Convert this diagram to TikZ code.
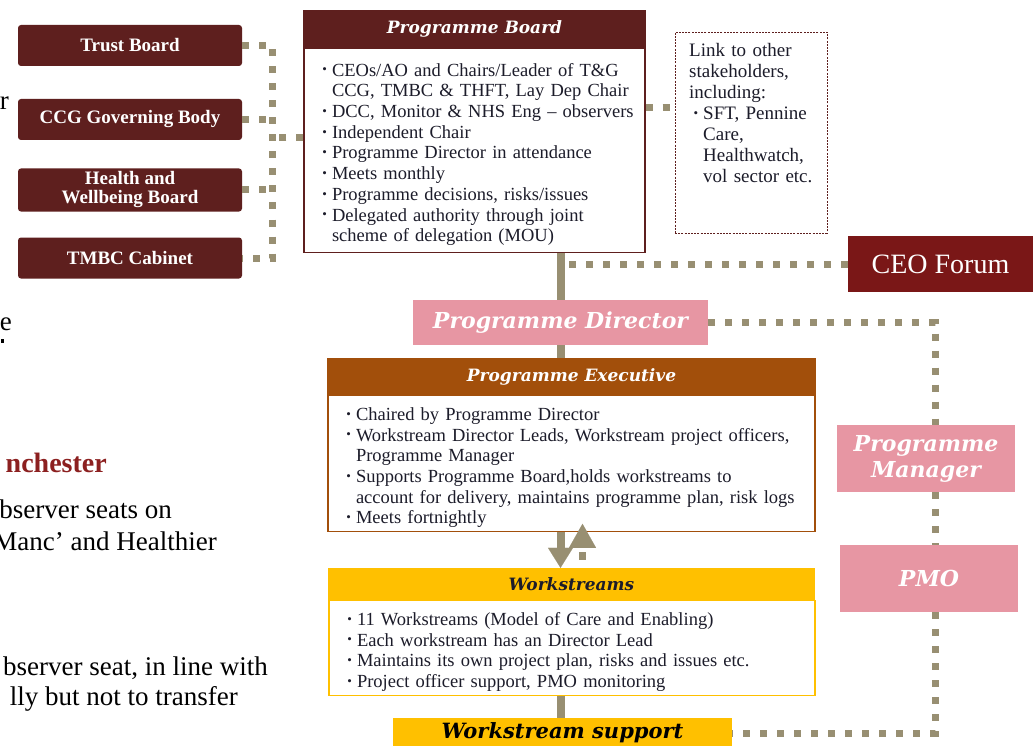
\documentclass[tikz,border=0pt]{standalone}
\usepackage{fontspec}
\setmainfont{Liberation Serif}
\newfontfamily\headfont{DejaVu Serif}
\usetikzlibrary{arrows.meta, positioning}

\definecolor{boardbrown}{HTML}{5E1F1E}
\definecolor{ceored}{HTML}{7A1717}
\definecolor{pinkfill}{HTML}{E796A3}
\definecolor{execbrown}{HTML}{A24F0B}
\definecolor{wsyellow}{HTML}{FFC000}
\definecolor{olive}{HTML}{988F72}
\definecolor{fragred}{HTML}{8C2020}
\definecolor{bodytext}{HTML}{1C1C2A}

\newcommand\tightspace{\spaceskip=3.2pt plus 1pt minus 0.5pt\relax}

\newenvironment{dotlist}[1][18pt]{%
  \begin{list}{\raisebox{0.12em}{\fontsize{13}{13}\selectfont\textbullet}}{%
    \setlength{\leftmargin}{#1}\setlength{\labelsep}{5pt}%
    \setlength{\labelwidth}{8pt}\setlength{\itemsep}{0pt}%
    \setlength{\parsep}{0pt}\setlength{\topsep}{0pt}%
    \setlength{\partopsep}{0pt}}}{\end{list}}

\tikzset{
  board/.style = {fill=boardbrown, text=white, rounded corners=3pt,
    minimum width=224pt, minimum height=41pt, align=center,
    font=\fontsize{19}{19}\selectfont\bfseries},
  headbar/.style = {minimum height=38pt, inner sep=0pt,
    font=\headfont\fontsize{17}{20}\selectfont\bfseries\itshape},
  bodybox/.style = {draw, line width=1.2pt, fill=white, text=bodytext,
    inner xsep=10pt, inner ysep=4pt, align=left,
    font=\fontsize{18.5}{20.7}\selectfont\tightspace},
  pinkbox/.style = {fill=pinkfill, text=white, inner sep=0pt, align=center,
    font=\headfont\fontsize{22}{26}\selectfont\bfseries\itshape},
  dots/.style = {draw=olive, line width=7pt, dash pattern=on 7pt off 10pt},
  trunk/.style = {draw=olive, line width=8pt},
  frag/.style = {anchor=base east, inner sep=0pt, font=\fontsize{27}{32}\selectfont}
}

\begin{document}
\begin{tikzpicture}[x=1pt, y=-1pt]
    \useasboundingbox [fill=white] (0,0) rectangle (1033,746);
    % \draw [help lines, step=50] (0,0) grid (1033,746);

    % text cut off at the left edge
    \node (F1) [frag] at (9,110) {r};
    \node (F2) [frag] at (12,330) {e};
    \fill (1,339) rectangle (4,343);
    \node (F4) [frag, text=fragred, font=\fontsize{28}{32}\selectfont\bfseries] at (107,472) {nchester};
    \node (F5) [frag] at (172,518) {bserver seats on};
    \node (F6) [frag] at (217,550) {Manc’ and Healthier};
    \node (F7) [frag] at (268,675) {bserver seat, in line with};
    \node (F8) [frag] at (238,705) {lly but not to transfer};

    \node (TB) [board] at (130,45.5) {Trust Board};
    \node (CCG) [board] at (130,119.5) {CCG Governing Body};
    \node (HWB) [board] at (130,190) {Health and\\Wellbeing Board};
    \node (TMBC) [board] at (130,258) {TMBC Cabinet};

    \node (PBh) [headbar, fill=boardbrown, text=white, minimum width=343pt] at (474.5,29) {Programme Board};
    \node (PB) [bodybox, draw=boardbrown, anchor=north, minimum width=341pt,
        minimum height=204pt, text width=321pt] at (474.5,48) {%
        \begin{dotlist}
        \item CEOs/AO and Chairs/Leader of T\&G\newline CCG, TMBC \& THFT, Lay Dep Chair
        \item DCC, Monitor \& NHS Eng – observers
        \item Independent Chair
        \item Programme Director in attendance
        \item Meets monthly
        \item Programme decisions, risks/issues
        \item Delegated authority through joint\newline scheme of delegation (MOU)
        \end{dotlist}};

    \node (LINK) [draw=boardbrown, line width=0.8pt, dash pattern=on 2pt off 1.2pt,
        minimum width=152pt, minimum height=201pt] at (751,132.5) {};
    \node (LINKt) [anchor=north west, inner sep=0pt, text width=130pt, align=left,
        text=bodytext, font=\fontsize{19}{21}\selectfont] at (689,43) {%
        Link to other\\stakeholders,\\including:
        \begin{dotlist}[14pt]
        \item SFT, Pennine\newline Care,\newline Healthwatch,\newline vol sector etc.
        \end{dotlist}};

    \node (CEO) [fill=ceored, text=white, minimum width=185pt, minimum height=56pt,
        font=\fontsize{28}{28}\selectfont] at (940.5,264) {CEO Forum};

    \node (PD) [pinkbox, minimum width=295pt, minimum height=45pt] at (560.5,322.5) {Programme Director};

    \node (PEh) [headbar, fill=execbrown, text=white, minimum width=489pt,
        minimum height=37pt] at (571.5,376.5) {Programme Executive};
    \node (PE) [bodybox, draw=execbrown, anchor=north, minimum width=487pt,
        minimum height=130pt, text width=467pt] at (571.5,395) {%
        \begin{dotlist}
        \item Chaired by Programme Director
        \item Workstream Director Leads, Workstream project officers,\newline Programme Manager
        \item Supports Programme Board,holds workstreams to\newline account for delivery, maintains programme plan, risk logs
        \item Meets fortnightly
        \end{dotlist}};

    \node (WSh) [headbar, fill=wsyellow, text=bodytext, minimum width=487pt,
        minimum height=32pt] at (571.5,584) {Workstreams};
    \node (WS) [bodybox, draw=wsyellow, anchor=north, minimum width=486pt,
        minimum height=94pt, text width=466pt] at (572,600) {%
        \begin{dotlist}
        \item 11 Workstreams (Model of Care and Enabling)
        \item Each workstream has an Director Lead
        \item Maintains its own project plan, risks and issues etc.
        \item Project officer support, PMO monitoring
        \end{dotlist}};

    \node (WSS) [pinkbox, fill=wsyellow, text=black, minimum width=339pt,
        minimum height=30pt, font=\headfont\fontsize{21}{24}\selectfont\bfseries\itshape] at (562.5,733) {Workstream support};

    \node (PM) [pinkbox, minimum width=178pt, minimum height=67pt] at (926,458.5) {Programme\\Manager};
    \node (PMO) [pinkbox, minimum width=178pt, minimum height=67pt] at (929,578.5) {PMO};

    % reporting lines
    \draw [dots] (TB.east) -- ++(30,0) |- (TMBC.east);
    \draw [dots] (CCG.east) -- ++(30,0);
    \draw [dots] (HWB.east) -- ++(30,0);
    \draw [dots] (PB.west |- 0,138) -- ++(-33,0);
    \draw [dots] (PB.14) -- (PB.14 -| LINK.west);

    \draw [trunk] (PD.north |- PB.south) -- (PD.north);
    \draw [trunk] (PD.south) -- (PD.south |- PEh.north);
    \draw [dots] (CEO.west) -- ++(-280,0);

    \draw [dots] (PD.east) -| ([xshift=9pt]PM.north);
    \draw [dots] ([xshift=9pt]PM.south) -- ([xshift=6pt]PMO.north);
    \draw [dots] ([xshift=6pt]PMO.south) |- (WSS.east);

    \draw [trunk, -{Triangle[width=25pt, length=20pt, line width=0.1pt]}]
        (PE.south -| PD.south) -- (WSh.north -| PD.south);
    \draw [dots, dash pattern=on 8pt off 8pt, dash phase=8pt,
        -{Triangle[width=27pt, length=24pt, line width=0.1pt]}]
        (WSh.north -| PD.south) ++(22,0) -- ++(0,-44);
    \draw [trunk] (WS.south -| PD.south) -- (WSS.north -| PD.south);
\end{tikzpicture}
\end{document}
